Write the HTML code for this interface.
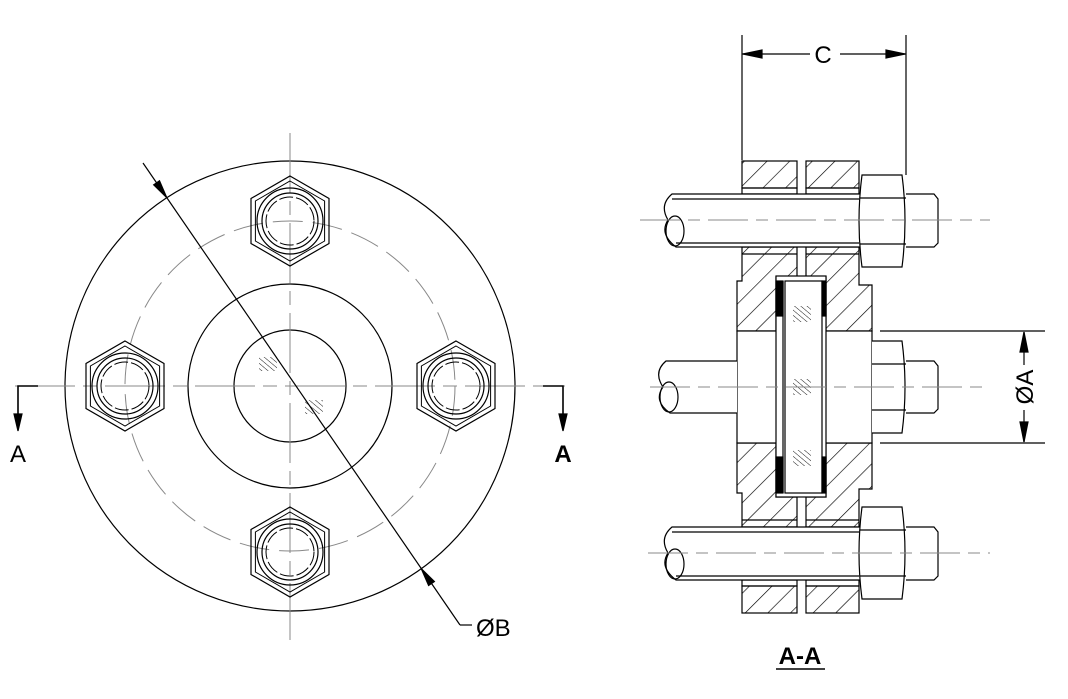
<!DOCTYPE html>
<html><head><meta charset="utf-8"><style>
html,body{margin:0;padding:0;background:#fff;}
svg{display:block;}
text{font-family:"Liberation Sans",sans-serif;}
</style></head><body>
<svg width="1068" height="699" viewBox="0 0 1068 699" xmlns="http://www.w3.org/2000/svg">
<defs>
<pattern id="h" patternUnits="userSpaceOnUse" width="16" height="16" patternTransform="rotate(45)">
<line x1="0" y1="0" x2="0" y2="16" stroke="#000" stroke-width="1.3"/>
</pattern>
<pattern id="g" patternUnits="userSpaceOnUse" width="4" height="4" patternTransform="rotate(-50)">
<line x1="0" y1="0" x2="0" y2="4" stroke="#000" stroke-width="0.9"/>
</pattern>
<g id="hex">
<polygon points="0,-45 39,-22.5 39,22.5 0,45 -39,22.5 -39,-22.5" fill="none" stroke="#000" stroke-width="1.2"/>
<polygon points="0,-40 34.6,-20 34.6,20 0,40 -34.6,20 -34.6,-20" fill="none" stroke="#000" stroke-width="1"/>
<circle r="33" fill="none" stroke="#000" stroke-width="1.2"/>
<circle r="28" fill="none" stroke="#000" stroke-width="1.2"/>
<circle r="24" fill="none" stroke="#000" stroke-width="1" stroke-dasharray="14 3"/>
</g>
</defs>
<g fill="none" stroke="#000" stroke-width="1.2">
<circle cx="290" cy="386" r="225"/>
<circle cx="290" cy="386" r="102"/>
<circle cx="290" cy="386" r="56"/>
<circle cx="290" cy="386" r="165" stroke="#888" stroke-width="1" stroke-dasharray="30 10"/>
<line x1="15" y1="386" x2="565" y2="386" stroke="#888" stroke-width="1" stroke-dasharray="60 8 14 8"/>
<line x1="290" y1="133" x2="290" y2="640" stroke="#888" stroke-width="1" stroke-dasharray="60 8 14 8"/>
<use href="#hex" x="290" y="221"/>
<use href="#hex" x="290" y="552"/>
<use href="#hex" x="125" y="386"/>
<use href="#hex" x="456" y="386"/>
<rect x="259" y="357" width="18" height="14" fill="url(#g)" stroke="none"/>
<rect x="305" y="400" width="18" height="14" fill="url(#g)" stroke="none"/>
<line x1="143" y1="163" x2="460" y2="625"/>
<line x1="460" y1="625" x2="472" y2="625"/>
<polygon points="166.8,197.7 159.5,180.8 153.7,184.8" fill="#000"/>
<polygon points="421.3,568.7 434.4,581.5 428.6,585.5" fill="#000"/>
<polyline points="38,386 18,386 18,420" stroke-width="1.6"/>
<polygon points="14,414 22,414 18,431" fill="#000"/>
<polyline points="543,386 563,386 563,420" stroke-width="1.6"/>
<polygon points="559,414 567,414 563,431" fill="#000"/>

<line x1="742" y1="35" x2="742" y2="160"/>
<line x1="906" y1="35" x2="906" y2="175"/>
<line x1="742" y1="54" x2="810" y2="54"/>
<line x1="840" y1="54" x2="906" y2="54"/>
<polygon points="743,54 762,50 762,58" fill="#000"/>
<polygon points="905,54 886,50 886,58" fill="#000"/>

<rect x="742" y="161" width="55" height="27" fill="url(#h)"/>
<rect x="806" y="161" width="53" height="27" fill="url(#h)"/>
<rect x="742" y="188" width="55" height="6"/>
<rect x="806" y="188" width="53" height="6"/>
<rect x="742" y="586" width="55" height="27" fill="url(#h)"/>
<rect x="806" y="586" width="53" height="27" fill="url(#h)"/>
<rect x="742" y="580" width="55" height="6"/>
<rect x="806" y="580" width="53" height="6"/>

<path d="M742,247 L797,247 L797,277 L776,277 L776,331 L737,331 L737,281 L742,281 Z" fill="url(#h)"/>
<path d="M806,247 L859,247 L859,285 L872,285 L872,331 L826,331 L826,277 L806,277 Z" fill="url(#h)"/>
<path d="M742,527 L797,527 L797,497 L776,497 L776,443 L737,443 L737,493 L742,493 Z" fill="url(#h)"/>
<path d="M806,527 L859,527 L859,489 L872,489 L872,443 L826,443 L826,497 L806,497 Z" fill="url(#h)"/>
<line x1="742" y1="254" x2="797" y2="254"/>
<line x1="806" y1="254" x2="859" y2="254"/>
<line x1="742" y1="520" x2="797" y2="520"/>
<line x1="806" y1="520" x2="859" y2="520"/>
<rect x="737" y="331" width="135" height="112" fill="#fff"/>
<line x1="797" y1="194" x2="797" y2="247"/><line x1="806" y1="194" x2="806" y2="247"/>
<line x1="797" y1="527" x2="797" y2="580"/><line x1="806" y1="527" x2="806" y2="580"/>

<rect x="776" y="276" width="50" height="221" fill="#fff"/>
<rect x="785" y="281" width="37" height="212" fill="#fff"/>
<line x1="783" y1="281" x2="783" y2="493"/>
<rect x="776" y="281" width="7" height="35" fill="#000"/>
<rect x="776" y="457" width="7" height="36" fill="#000"/>
<rect x="822" y="281" width="4" height="35" fill="#000"/>
<rect x="822" y="457" width="4" height="36" fill="#000"/>
<rect x="793" y="306" width="18" height="16" fill="url(#g)" stroke="none"/>
<rect x="793" y="379" width="18" height="16" fill="url(#g)" stroke="none"/>
<rect x="793" y="450" width="18" height="16" fill="url(#g)" stroke="none"/>

<path d="M859,194 L672,194 Q659,205 668,220 Q659,234 676,247 L859,247" fill="#fff"/>
<line x1="672" y1="199" x2="859" y2="199"/>
<line x1="676" y1="243" x2="859" y2="243"/>
<ellipse cx="675" cy="231" rx="9" ry="15"/>
<path d="M862,175 L902,175 Q908,221 902,267 L862,267 Q856,221 862,175 Z" fill="#fff"/>
<line x1="860" y1="198" x2="906" y2="198"/><line x1="860" y1="244" x2="906" y2="244"/>
<path d="M906,194 L934,194 L938,199 L938,243 L934,247 L906,247" fill="#fff"/>
<path d="M859,527 L672,527 Q659,538 668,553 Q659,567 676,580 L859,580" fill="#fff"/>
<line x1="672" y1="532" x2="859" y2="532"/>
<line x1="676" y1="576" x2="859" y2="576"/>
<ellipse cx="675" cy="564" rx="9" ry="15"/>
<path d="M862,507 L902,507 Q908,553 902,599 L862,599 Q856,553 862,507 Z" fill="#fff"/>
<line x1="860" y1="530" x2="906" y2="530"/><line x1="860" y1="576" x2="906" y2="576"/>
<path d="M906,527 L934,527 L938,532 L938,576 L934,580 L906,580" fill="#fff"/>
<path d="M737,361 L666,361 Q653,372 663,387 Q653,401 670,413 L737,413" fill="#fff"/>
<ellipse cx="669" cy="397" rx="9" ry="15"/>
<path d="M872,341 L902,341 Q908,387 902,433 L872,433" fill="#fff"/>
<line x1="872" y1="364" x2="906" y2="364"/><line x1="872" y1="410" x2="906" y2="410"/>
<path d="M906,361 L934,361 L938,366 L938,409 L934,413 L906,413" fill="#fff"/>

<g stroke="#888" stroke-width="1" stroke-dasharray="40 8 12 8">
<line x1="640" y1="220" x2="990" y2="220"/>
<line x1="650" y1="387" x2="990" y2="387"/>
<line x1="648" y1="553" x2="990" y2="553"/>
</g>

<line x1="880" y1="331" x2="1045" y2="331"/>
<line x1="880" y1="443" x2="1045" y2="443"/>
<line x1="1024" y1="332" x2="1024" y2="365"/>
<line x1="1024" y1="410" x2="1024" y2="442"/>
<polygon points="1024,332 1020,352 1028,352" fill="#000"/>
<polygon points="1024,442 1020,422 1028,422" fill="#000"/>
<line x1="776" y1="669" x2="825" y2="669" stroke-width="1.6"/>
</g>
<text x="823" y="63" font-size="24" text-anchor="middle">C</text>
<text x="18" y="462" font-size="24" text-anchor="middle">A</text>
<text x="563" y="462" font-size="24" font-weight="bold" text-anchor="middle">A</text>
<text x="476" y="636" font-size="24">ØB</text>
<text transform="translate(1033,387) rotate(-90)" font-size="24" text-anchor="middle">ØA</text>
<text x="800" y="664" font-size="24" font-weight="bold" text-anchor="middle">A-A</text>
</svg>
</body></html>
